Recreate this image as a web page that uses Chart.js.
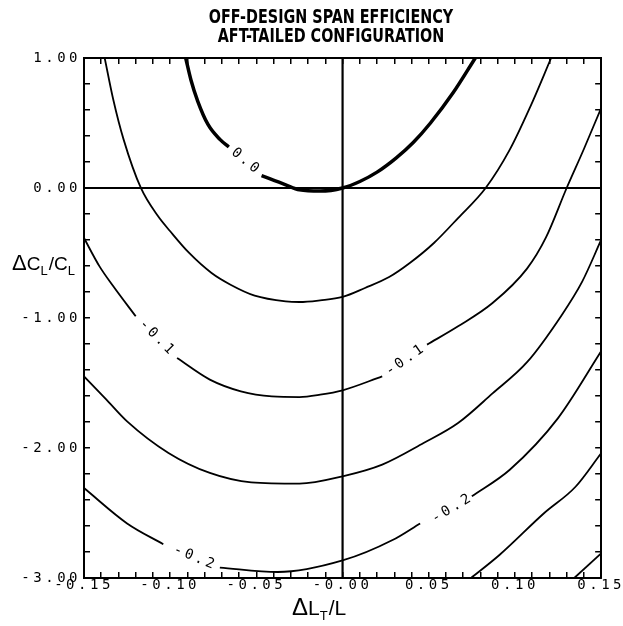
<!DOCTYPE html>
<html><head><meta charset="utf-8">
<script src="https://cdn.jsdelivr.net/npm/chart.js@4.4.1/dist/chart.umd.min.js"></script>
<style>html,body{margin:0;padding:0;background:#fff;}#wrap{width:623px;height:626px;}</style>
</head><body><div id="wrap"><canvas id="c" width="623" height="626"></canvas></div>
<script>
// ---- text ----
const titleLines = ['OFF-DESIGN SPAN EFFICIENCY', 'AFT-TAILED CONFIGURATION'];
const xTickValues = [-0.15, -0.10, -0.05, 0, 0.05, 0.10, 0.15];
const xTickLabels = ['-0.15', '-0.10', '-0.05', '-0.00', '0.05', '0.10', '0.15'];
const yTickValues = [1, 0, -1, -2, -3];
const yTickLabels = ['1.00', '0.00', '-1.00', '-2.00', '-3.00'];

// ---- contour lines (x = dLt/L, y = dCL/CL); null = gap for a label ----
const c00_x = [-0.091, -0.088, -0.084, -0.078, -0.071, -0.066, -0.056, -0.047, -0.033, -0.025, -0.013, 0.0, 0.010, 0.020, 0.031, 0.041, 0.051, 0.064, 0.077];
const c00_y = [1.0, 0.833, 0.667, 0.487, 0.372, 0.315, null, 0.095, 0.024, -0.014, -0.024, 0.0, 0.05, 0.122, 0.23, 0.35, 0.50, 0.73, 1.0];

const c05_x = [-0.138, -0.133, -0.127, -0.117, -0.107, -0.100, -0.089, -0.076, -0.065, -0.051, -0.033, -0.025, -0.013, 0.0, 0.013, 0.027, 0.039, 0.053, 0.067, 0.083, 0.097, 0.109, 0.121];
const c05_y = [1.0, 0.679, 0.372, 0.0, -0.218, -0.333, -0.5, -0.654, -0.744, -0.828, -0.872, -0.877, -0.864, -0.838, -0.769, -0.685, -0.577, -0.423, -0.231, 0.0, 0.295, 0.628, 1.0];

const c10_x = [-0.15, -0.141, -0.133, -0.120, -0.108, -0.096, -0.077, -0.059, -0.041, -0.025, -0.013, 0.0, 0.023, 0.036, 0.049, 0.067, 0.087, 0.107, 0.118, 0.130, 0.140, 0.15];
const c10_y = [-0.385, -0.603, -0.756, -0.987, null, -1.308, -1.474, -1.564, -1.603, -1.608, -1.59, -1.556, -1.449, null, -1.205, -1.064, -0.885, -0.62, -0.38, 0.0, 0.3, 0.615];

const c15_x = [-0.15, -0.137, -0.125, -0.101, -0.077, -0.053, -0.025, 0.0, 0.023, 0.047, 0.067, 0.087, 0.107, 0.127, 0.139, 0.15];
const c15_y = [-1.449, -1.628, -1.795, -2.038, -2.192, -2.264, -2.274, -2.218, -2.128, -1.962, -1.808, -1.58, -1.34, -0.98, -0.72, -0.40];

const c20_x = [-0.15, -0.125, -0.104, -0.085, -0.0712, -0.0376, 0.0, 0.029, 0.045, 0.063, 0.075, 0.097, 0.125, 0.15];
const c20_y = [-2.308, -2.58, -2.74, null, -2.92, -2.954, -2.865, -2.708, -2.58, null, -2.371, -2.167, -1.77, -1.256];

const c25_x = [0.0745, 0.091, 0.117, 0.135, 0.15];
const c25_y = [-3.0, -2.823, -2.5, -2.3, -2.04];

const c30_x = [0.1344, 0.15];
const c30_y = [-3.0, -2.81];

const zeroV_x = [0, 0], zeroV_y = [-3, 1];
const zeroH_x = [-0.15, 0.15], zeroH_y = [0, 0];

// ---- contour labels (in data units) ----
const labelTexts = ['0.0', '-0.1', '-0.1', '-0.2', '-0.2'];
const labelX = [-0.0565, -0.108, 0.036, -0.0862, 0.063];
const labelY = [0.21, -1.146, -1.327, -2.84, -2.468];
const labelAngle = [40, 45, -35, 22, -31];

const monoFamily = "'DejaVu Sans Mono', 'Liberation Mono', monospace";
const sansFamily = "'Liberation Sans', Arial, sans-serif";

function line(xs, ys, w) {
  return {
    data: xs.map((x, i) => ({ x: x, y: ys[i] })),
    showLine: true, borderColor: '#000', backgroundColor: '#000',
    borderWidth: w, pointRadius: 0, pointHoverRadius: 0,
    cubicInterpolationMode: 'monotone', spanGaps: false, fill: false
  };
}
function straight(xs, ys, w) {
  const d = line(xs, ys, w); d.cubicInterpolationMode = 'default'; d.tension = 0; return d;
}

function drawRich(ctx, x, base, segs) {
  ctx.textAlign = 'left'; ctx.textBaseline = 'alphabetic';
  segs.forEach(s => {
    ctx.font = s.size + 'px ' + sansFamily;
    ctx.fillText(s.t, x, base + (s.dy || 0));
    x += ctx.measureText(s.t).width + (s.gap || 0);
  });
}

const decor = {
  id: 'decor',
  afterLayout(chart) {
    // let the left tick labels spill out of the narrow axis box
    const ys = chart.scales.y;
    ys._computeLabelArea = function () { return undefined; };
    // draw the title a little condensed, like the plotter lettering
    const tb = chart.titleBlock;
    if (tb && !tb._condensed) {
      const orig = tb.draw;
      tb.draw = function () {
        const ctx = this.ctx, cx = (this.left + this.right) / 2;
        ctx.save();
        ctx.translate(cx, 0); ctx.scale(0.84, 1); ctx.translate(-cx, 0);
        orig.apply(this, arguments);
        ctx.restore();
      };
      tb._condensed = true;
    }
  },
  afterDatasetsDraw(chart) {
    const ctx = chart.ctx, xs = chart.scales.x, ys = chart.scales.y;
    ctx.save();
    ctx.letterSpacing = '3px';
    ctx.font = '14px ' + monoFamily;
    ctx.fillStyle = '#000'; ctx.textAlign = 'center'; ctx.textBaseline = 'middle';
    labelTexts.forEach((t, i) => {
      ctx.save();
      ctx.translate(xs.getPixelForValue(labelX[i]), ys.getPixelForValue(labelY[i]));
      ctx.rotate(labelAngle[i] * Math.PI / 180);
      ctx.fillText(t, 1.5, 0);
      ctx.restore();
    });
    ctx.restore();
    ctx.letterSpacing = '3.5px';
  },
  afterDraw(chart) {
    const ctx = chart.ctx;
    ctx.letterSpacing = '0px';
    ctx.save();
    ctx.fillStyle = '#000';
    drawRich(ctx, 12, 270, [
      { t: '\u0394', size: 22 }, { t: 'C', size: 19 }, { t: 'L', size: 13, dy: 5, gap: 1 },
      { t: '/', size: 19 }, { t: 'C', size: 19 }, { t: 'L', size: 13, dy: 5 }
    ]);
    drawRich(ctx, 292, 615, [
      { t: '\u0394', size: 24 }, { t: 'L', size: 21 }, { t: 'T', size: 13, dy: 5, gap: 1 },
      { t: '/', size: 21 }, { t: 'L', size: 21 }
    ]);
    ctx.restore();
  }
};

const gridOpts = { display: true, drawOnChartArea: false, drawTicks: true, tickLength: -6, color: '#000', lineWidth: 1.5 };
const borderOpts = { display: true, color: '#000', width: 2 };

function xTickCb(v) {
  const i = xTickValues.findIndex(t => Math.abs(t - v) < 1e-6);
  return i >= 0 ? xTickLabels[i] : '';
}
function yTickCb(v) {
  const i = yTickValues.findIndex(t => Math.abs(t - v) < 1e-6);
  return i >= 0 ? yTickLabels[i] : '';
}

new Chart(document.getElementById('c'), {
  type: 'scatter',
  data: {
    datasets: [
      line(c00_x, c00_y, 3.5),
      line(c05_x, c05_y, 1.8),
      line(c10_x, c10_y, 1.8),
      line(c15_x, c15_y, 1.8),
      line(c20_x, c20_y, 1.8),
      line(c25_x, c25_y, 1.8),
      straight(c30_x, c30_y, 1.8),
      straight(zeroV_x, zeroV_y, 2.2),
      straight(zeroH_x, zeroH_y, 2.2)
    ]
  },
  options: {
    responsive: false, animation: false, devicePixelRatio: 1,
    layout: { padding: { left: 60, right: 21, top: 0, bottom: 0 } },
    plugins: {
      legend: { display: false }, tooltip: { enabled: false },
      title: {
        display: true, text: titleLines, color: '#000', align: 'center', fullSize: true,
        font: { family: "'Liberation Sans Narrow', 'DejaVu Sans Condensed', sans-serif", size: 19, weight: 'bold', lineHeight: 1.026 },
        padding: { top: 8, bottom: 11 }
      }
    },
    scales: {
      x: {
        type: 'linear', position: 'bottom', min: -0.15, max: 0.15,
        grid: gridOpts, border: borderOpts,
        ticks: { stepSize: 0.01, maxTicksLimit: 100, autoSkip: false, maxRotation: 0, minRotation: 0,
          color: '#000', font: { family: monoFamily, size: 14 }, padding: 5, z: 1, callback: xTickCb },
        afterFit(s) { s.height = 48; }
      },
      y: {
        type: 'linear', position: 'left', min: -3, max: 1,
        grid: gridOpts, border: borderOpts,
        ticks: { stepSize: 0.2, maxTicksLimit: 100, autoSkip: false,
          color: '#000', font: { family: monoFamily, size: 14 }, padding: 9, z: 1, callback: yTickCb },
        afterFit(s) { s.width = 24; }
      },
      x2: {
        type: 'linear', position: 'top', min: -0.15, max: 0.15,
        grid: gridOpts, border: borderOpts,
        ticks: { display: false, stepSize: 0.01, maxTicksLimit: 100, autoSkip: false },
        afterFit(s) { s.height = 0; }
      },
      y2: {
        type: 'linear', position: 'right', min: -3, max: 1,
        grid: gridOpts, border: borderOpts,
        ticks: { display: false, stepSize: 0.2, maxTicksLimit: 100, autoSkip: false },
        afterFit(s) { s.width = 0; }
      }
    }
  },
  plugins: [decor]
});
</script></body></html>
